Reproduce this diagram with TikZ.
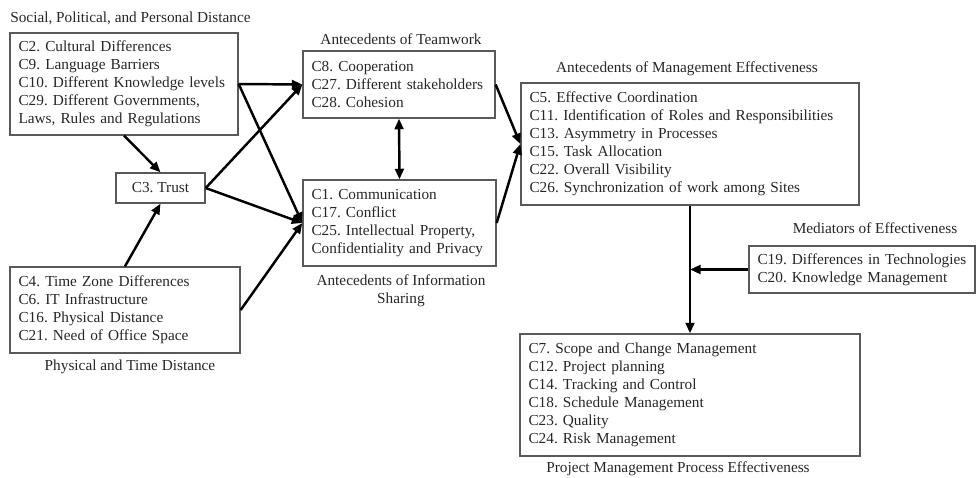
\documentclass[tikz,border=0pt]{standalone}
\usepackage{fontspec}
\setmainfont{Liberation Serif}
\usetikzlibrary{positioning,arrows.meta}

\begin{document}
\frenchspacing
\hyphenpenalty=10000
\begin{tikzpicture}[x=0.02cm, y=-0.02cm, >={Triangle[length=6pt,width=5pt]},
  every node/.style={font=\fontsize{8.7}{10.2}\selectfont, text=black!85},
  box/.style={draw=black!65, line width=0.8pt, inner xsep=0.17cm, align=left},
  head/.style={inner sep=0pt},
  arr/.style={->, line width=1.4pt}]
  \useasboundingbox (0,0) rectangle (980,477);
  \node[box, text width=4.22cm, minimum height=2.04cm] (soc) at (124,84) {C2. Cultural Differences\\C9. Language Barriers\\C10. Different Knowledge levels\\C29. Different Governments,\\Laws, Rules and Regulations};
  \node[box, minimum width=1.78cm, minimum height=0.6cm, align=center] (trust) at (160.5,188) {C3. Trust};
  \node[box, text width=4.26cm, minimum height=1.72cm] (time) at (125,310) {C4. Time Zone Differences\\C6. IT Infrastructure\\C16. Physical Distance\\C21. Need of Office Space};
  \node[box, text width=3.5cm, minimum height=1.34cm] (team) at (399,84.5) {C8. Cooperation\\C27. Different stakeholders\\C28. Cohesion};
  \node[box, text width=3.52cm, minimum height=1.72cm] (info) at (399.5,223) {C1. Communication\\C17. Conflict\\C25. Intellectual Property,\\Confidentiality and Privacy};
  \node[box, text width=6.42cm, minimum height=2.44cm] (mgmt) at (690,144) {C5. Effective Coordination\\C11. Identification of Roles and Responsibilities\\C13. Asymmetry in Processes\\C15. Task Allocation\\C22. Overall Visibility\\C26. Synchronization of work among Sites};
  \node[box, text width=4.18cm, minimum height=0.94cm] (med) at (862,269.5) {C19. Differences in Technologies\\C20. Knowledge Management};
  \node[box, text width=6.46cm, minimum height=2.44cm] (pm) at (690,395) {C7. Scope and Change Management\\C12. Project planning\\C14. Tracking and Control\\C18. Schedule Management\\C23. Quality\\C24. Risk Management};

  \node[head, anchor=west] (socT) at (10,18) {Social, Political, and Personal Distance};
  \node[head] (timeT) at (130,367) {Physical and Time Distance};
  \node[head] (teamT) at (401,39) {Antecedents of Teamwork};
  \node[head, align=center] (infoT) at (401,291) {Antecedents of Information\\Sharing};
  \node[head] (mgmtT) at (687,69) {Antecedents of Management Effectiveness};
  \node[head] (medT) at (875,228) {Mediators of Effectiveness};
  \node[head] (pmT) at (678,469) {Project Management Process Effectiveness};

  \coordinate (join) at (med.west -| mgmt.south);
  \draw[arr] (soc.east) -- (team.west);
  \draw[arr] (soc.east) -- (info.west);
  \draw[arr] (soc.south) -- (trust.north);
  \draw[arr] (time.north) -- (trust.south);
  \draw[arr] (trust.east) -- (team.west);
  \draw[arr] (trust.east) -- (info.west);
  \draw[arr] (time.east) -- (info.west);
  \draw[arr, <->] (team.south) -- (info.north);
  \draw[arr] (team.east) -- (mgmt.west);
  \draw[arr] (info.east) -- (mgmt.west);
  \draw[arr] (mgmt.south) -- (pm.north);
  \draw[arr] (med.west) -- (join);
\end{tikzpicture}
\end{document}
